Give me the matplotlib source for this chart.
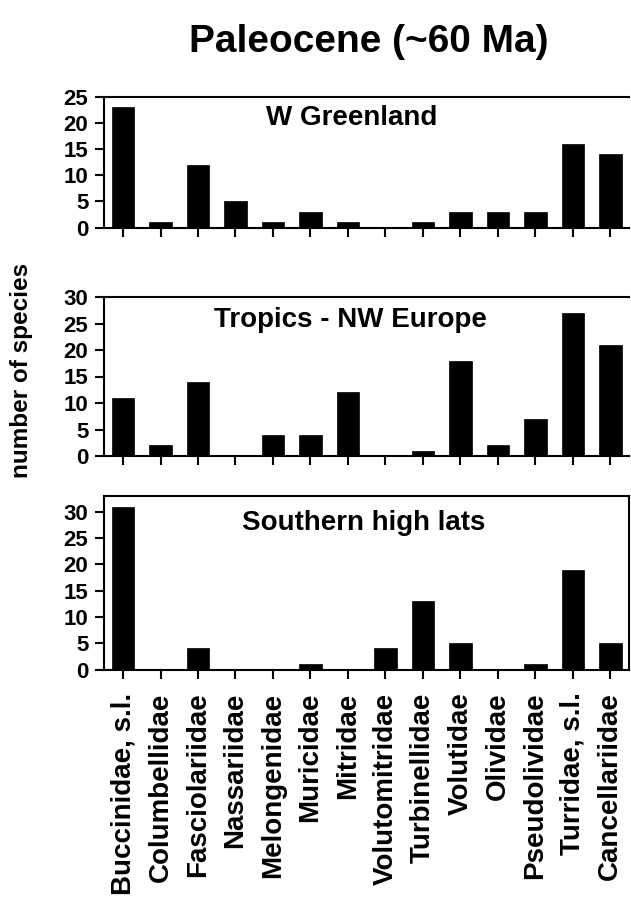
import matplotlib
matplotlib.use("Agg")
import matplotlib.pyplot as plt
import numpy as np

plt.rcParams['font.family'] = ['Liberation Sans', 'DejaVu Sans']
plt.rcParams['font.weight'] = 'bold'

families = ["Buccinidae, s.l.", "Columbellidae", "Fasciolariidae", "Nassariidae",
            "Melongenidae", "Muricidae", "Mitridae", "Volutomitridae", "Turbinellidae",
            "Volutidae", "Olividae", "Pseudolividae", "Turridae, s.l.", "Cancellariidae"]

greenland = [23, 1, 12, 5, 1, 3, 1, 0, 1, 3, 3, 3, 16, 14]
tropics = [11, 2, 14, 0, 4, 4, 12, 0, 1, 18, 2, 7, 27, 21]
southern = [31, 0, 4, 0, 0, 1, 0, 4, 13, 5, 0, 1, 19, 5]

panel_names = ["W Greenland", "Tropics - NW Europe", "Southern high lats"]
yticks_list = [[0, 5, 10, 15, 20, 25], [0, 5, 10, 15, 20, 25, 30], [0, 5, 10, 15, 20, 25, 30]]
ylims = [25, 30, 33]

W, H = 631, 907
fig = plt.figure(figsize=(W / 100, H / 100), dpi=100)

left = 104.3 / W
width = (629 - 104.3) / W
boxes = [(97, 227.5), (297, 456), (496, 669.5)]
title_pos = [(0.472, 0.84), (0.47, 0.855), (0.495, 0.844)]

x = np.arange(len(families))
for k, (vals, name, yt, yl, (top, bot), (tx, ty)) in enumerate(
        zip([greenland, tropics, southern], panel_names, yticks_list, ylims, boxes, title_pos)):
    ax = fig.add_axes([left, 1 - bot / H, width, (bot - top) / H])
    ax.bar(x, vals, width=0.6, color='black', edgecolor='black', linewidth=0.5)
    ax.set_xlim(-0.5, 13.5)
    ax.set_ylim(0, yl)
    ax.set_yticks(yt)
    ax.set_xticks(x)
    for s in ax.spines.values():
        s.set_linewidth(1.5)
    if k < 2:
        ax.spines['right'].set_visible(False)
        ax.set_xticklabels([])
    else:
        ax.set_xticklabels(families, rotation=90, fontsize=20, fontweight='bold', va='top')
    ax.tick_params(axis='both', direction='out', length=6.5, width=1.5)
    ax.tick_params(axis='y', labelsize=16, pad=5)
    ax.tick_params(axis='x', pad=10)
    for lab in ax.get_yticklabels():
        lab.set_fontweight('bold')
    ax.text(tx, ty, name, transform=ax.transAxes, ha='center', va='center',
            fontsize=20, fontweight='bold')

fig.text(369 / W, 1 - 42 / H, "Paleocene (~60 Ma)", ha='center', va='center',
         fontsize=28, fontweight='bold')
fig.text(22 / W, 1 - 370 / H, "number of species", ha='center', va='center',
         rotation=90, fontsize=17.5, fontweight='bold')

fig.savefig("out.png", dpi=100)
